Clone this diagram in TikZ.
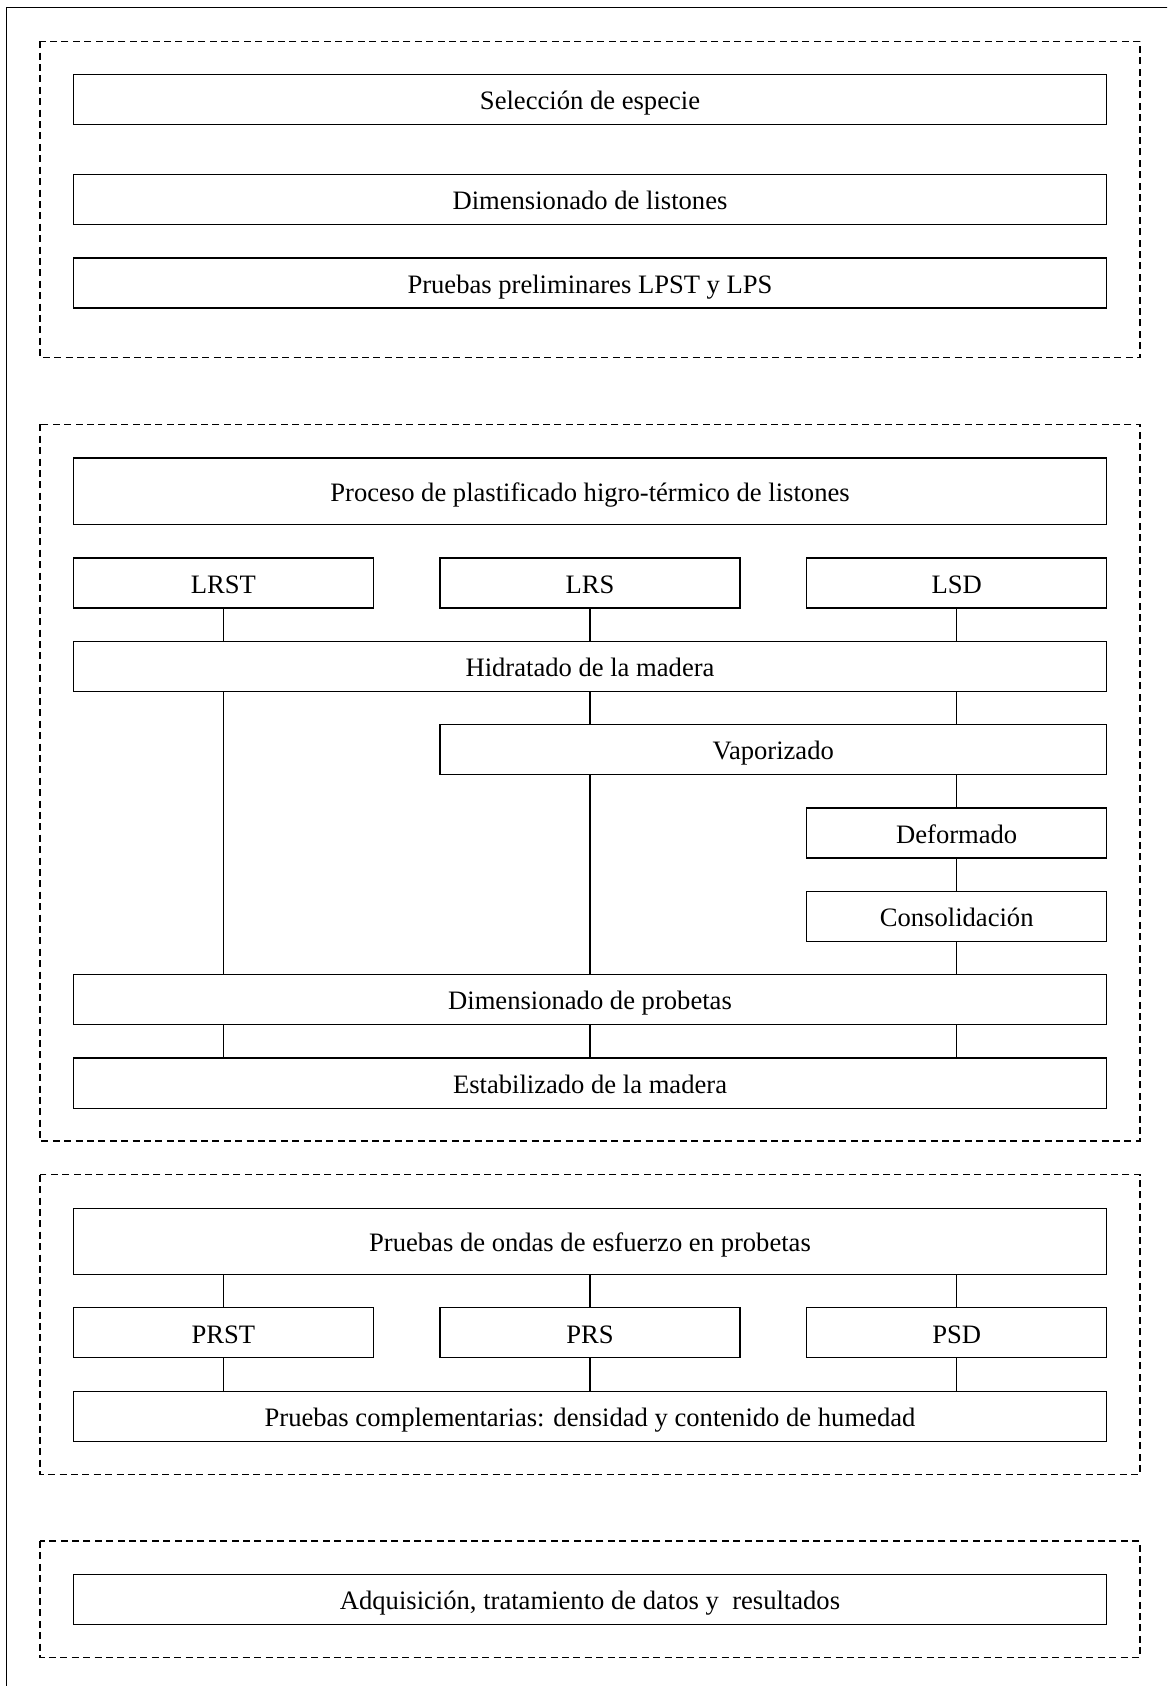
\documentclass[tikz,border=0pt]{standalone}
\usepackage{fontspec}
\setmainfont{Liberation Serif}
\begin{document}
\begin{tikzpicture}[x=0.5pt,y=-0.5pt,
  bx/.style={draw, line width=0.6pt, inner sep=0pt, anchor=center, text height=13.3pt, text depth=3.05pt, font=\fontsize{13.3}{16}\selectfont},
  wide/.style={bx, minimum width=516.7pt},
  small/.style={bx, minimum width=150pt},
  grp/.style={draw, dashed, dash pattern=on 3.5pt off 2.2pt, line width=0.65pt},
  ln/.style={line width=0.6pt}]
\useasboundingbox (0,0) rectangle (1167,1686);
\begin{scope}
\clip (0,0) rectangle (1167,1686);
\draw[line width=0.8pt] (6.5,7.5) rectangle (1180,1700);
\end{scope}
% groups
\draw[grp] (40,41.3) rectangle (1140,357.7);
\draw[grp] (40,424.3) rectangle (1140,1141.1);
\draw[grp] (40,1174.7) rectangle (1140,1474.4);
\draw[grp] (40,1541) rectangle (1140,1657.5);
% section 1
\node[wide, minimum height=25pt] (esp) at (590,99.7) {Selección de especie};
\node[wide, minimum height=25pt] (dim) at (590,199.7) {Dimensionado de listones};
\node[wide, minimum height=25pt] (pre) at (590,283) {Pruebas preliminares LPST y LPS};
% section 2
\node[wide, minimum height=33.3pt] (proc) at (590,491.3) {Proceso de plastificado higro-térmico de listones};
\node[small, minimum height=25pt] (lrst) at (223.3,583) {LRST};
\node[small, minimum height=25pt] (lrs) at (590,583) {LRS};
\node[small, minimum height=25pt] (lsd) at (956.7,583) {LSD};
\node[wide, minimum height=25pt] (hid) at (590,666.3) {Hidratado de la madera};
\node[bx, minimum width=333.3pt, minimum height=25pt] (vap) at (773.3,749.7) {Vaporizado};
\node[small, minimum height=25pt] (def) at (956.7,833) {Deformado};
\node[small, minimum height=25pt] (con) at (956.7,916.3) {Consolidación};
\node[wide, minimum height=25pt] (dprob) at (590,999.7) {Dimensionado de probetas};
\node[wide, minimum height=25.1pt] (est) at (590,1083.1) {Estabilizado de la madera};
% section 3
\node[wide, minimum height=33pt] (ond) at (590,1241.45) {Pruebas de ondas de esfuerzo en probetas};
\node[small, minimum height=25pt] (prst) at (223.3,1332.8) {PRST};
\node[small, minimum height=25pt] (prs) at (590,1332.8) {PRS};
\node[small, minimum height=25pt] (psd) at (956.7,1332.8) {PSD};
\node[wide, minimum height=24.85pt] (comp) at (590,1416.35) {Pruebas complementarias: densidad y contenido de humedad};
% section 4
\node[wide, minimum height=24.85pt] (adq) at (590,1599.45) {Adquisición, tratamiento de datos y\ \ resultados};
% connectors
\draw[ln] (lrst.south) -- (lrst.south |- hid.north);
\draw[ln] (lrs.south) -- (lrs.south |- hid.north);
\draw[ln] (lsd.south) -- (lsd.south |- hid.north);
\draw[ln] (lrst.south |- hid.south) -- (lrst.south |- dprob.north);
\draw[ln] (lrs.south |- hid.south) -- (lrs.south |- vap.north);
\draw[ln] (lsd.south |- hid.south) -- (lsd.south |- vap.north);
\draw[ln] (lrs.south |- vap.south) -- (lrs.south |- dprob.north);
\draw[ln] (def.north |- vap.south) -- (def.north);
\draw[ln] (def.south) -- (con.north);
\draw[ln] (con.south) -- (con.south |- dprob.north);
\draw[ln] (lrst.south |- dprob.south) -- (lrst.south |- est.north);
\draw[ln] (lrs.south |- dprob.south) -- (lrs.south |- est.north);
\draw[ln] (lsd.south |- dprob.south) -- (lsd.south |- est.north);
\draw[ln] (prst.north |- ond.south) -- (prst.north);
\draw[ln] (prs.north |- ond.south) -- (prs.north);
\draw[ln] (psd.north |- ond.south) -- (psd.north);
\draw[ln] (prst.south) -- (prst.south |- comp.north);
\draw[ln] (prs.south) -- (prs.south |- comp.north);
\draw[ln] (psd.south) -- (psd.south |- comp.north);
\end{tikzpicture}
\end{document}
